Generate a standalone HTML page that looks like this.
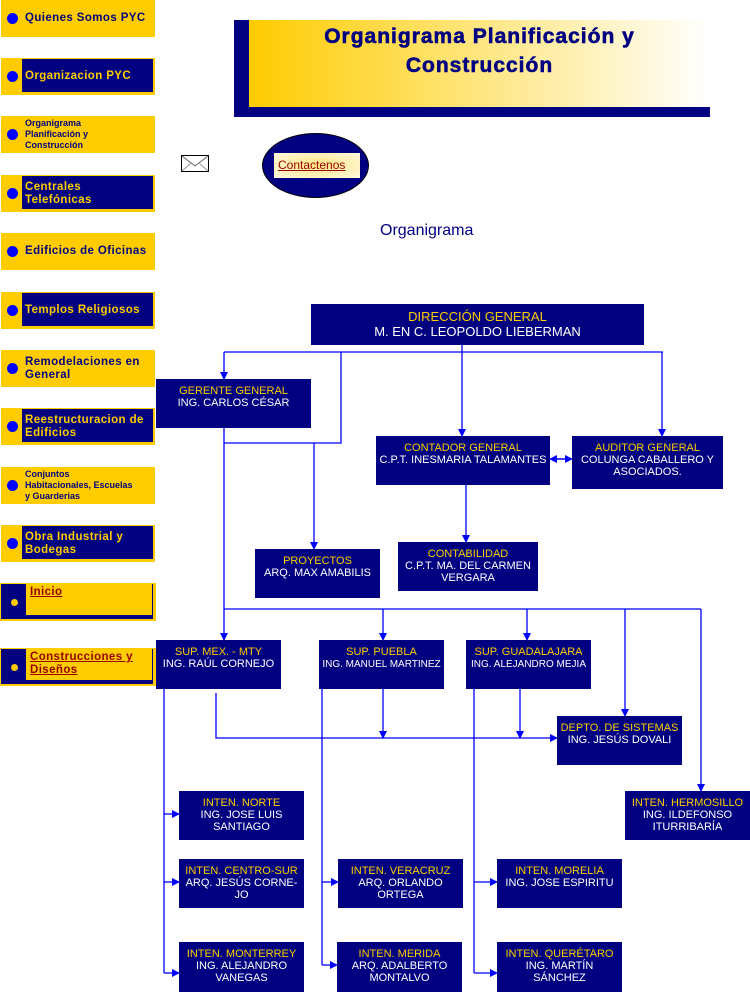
<!DOCTYPE html>
<html><head><meta charset="utf-8"><style>
body{margin:0;width:750px;height:992px;position:relative;background:#fff;overflow:hidden;font-family:"Liberation Sans",sans-serif}
.b{position:absolute;left:1px;width:154px;height:37px;background:#FFCC00}
.b .d{position:absolute;left:6px;top:13px;width:11px;height:11px;border-radius:50%;background:#0000FF}
.b .in{position:absolute;left:21px;top:1px;width:131px;height:33px;background:#000080}
.b .t{position:absolute;left:24px;top:0;height:37px;width:130px;display:flex;align-items:center;font-weight:bold;font-size:11.5px;line-height:13px;color:#000080;letter-spacing:0.4px}
.b .t.y{color:#FFCC00}
.b .t.s{font-size:9px;line-height:11px;letter-spacing:0}
.c{position:absolute;left:0;width:156px;height:38px;background:#FFCC00}
.c .fr{position:absolute;left:1px;top:1px;width:152px;height:35px;background:#000080}
.c .yi{position:absolute;left:26px;top:1px;width:126px;height:31px;background:#FFCC00}
.c .dd{position:absolute;left:11px;top:16px;width:7px;height:7px;border-radius:50%;background:#FFCC00}
.c .t{position:absolute;left:30px;top:3px;font-weight:bold;font-size:11.5px;line-height:13px;color:#990000;text-decoration:underline;letter-spacing:0.4px}
.n{position:absolute;background:#000080;color:#fff;font-size:11px;line-height:12px;text-align:center;padding-top:6px;box-sizing:border-box}
.n span{color:#FFCC00}
</style></head><body>

<div class="b" style="top:0"><div class="d"></div><div class="t">Quienes Somos PYC</div></div>
<div class="b" style="top:58px"><div class="in"></div><div class="d"></div><div class="t y">Organizacion PYC</div></div>
<div class="b" style="top:116px"><div class="d"></div><div class="t s">Organigrama<br>Planificación y<br>Construcción</div></div>
<div class="b" style="top:175px"><div class="in"></div><div class="d"></div><div class="t y">Centrales<br>Telefónicas</div></div>
<div class="b" style="top:233px"><div class="d"></div><div class="t">Edificios de Oficinas</div></div>
<div class="b" style="top:292px"><div class="in"></div><div class="d"></div><div class="t y">Templos Religiosos</div></div>
<div class="b" style="top:350px"><div class="d"></div><div class="t">Remodelaciones en<br>General</div></div>
<div class="b" style="top:408px"><div class="in"></div><div class="d"></div><div class="t y">Reestructuracion de<br>Edificios</div></div>
<div class="b" style="top:467px"><div class="d"></div><div class="t s">Conjuntos<br>Habitacionales, Escuelas<br>y Guarderias</div></div>
<div class="b" style="top:525px"><div class="in"></div><div class="d"></div><div class="t y">Obra Industrial y<br>Bodegas</div></div>
<div class="c" style="top:583px"><div class="fr"></div><div class="yi"></div><div class="dd"></div><div class="t">Inicio</div></div>
<div class="c" style="top:648px"><div class="fr"></div><div class="yi"></div><div class="dd"></div><div class="t">Construcciones y<br>Diseños</div></div>

<div style="position:absolute;left:234px;top:20px;width:476px;height:97px;background:#000080"></div>
<div style="position:absolute;left:249px;top:20px;width:461px;height:87px;background:linear-gradient(90deg,#FFCC00 0%,#FFE680 50%,#FFFFFF 100%)"></div>
<div style="position:absolute;left:249px;top:22px;width:461px;text-align:center;font-weight:900;font-size:21px;line-height:29px;color:#000080;letter-spacing:1px;-webkit-text-stroke:0.6px #000080">Organigrama Planificación y<br>Construcción</div>

<svg style="position:absolute;left:181px;top:155px" width="29" height="18"><rect x="0.5" y="0.5" width="27" height="16" fill="#fff" stroke="#000"/><path d="M1 1 L14 11 L27 1" fill="none" stroke="#666"/><path d="M1 16 L10 8 M27 16 L18 8" stroke="#999"/></svg>
<div style="position:absolute;left:262px;top:133px;width:105px;height:63px;border-radius:50%;background:#000080;border:1px solid #000"></div>
<div style="position:absolute;left:274px;top:153px;width:86px;height:25px;background:radial-gradient(ellipse,#FFE680,#FFF8E0);"></div>
<div style="position:absolute;left:278px;top:158px;font-size:12px;color:#990000;text-decoration:underline">Contactenos</div>

<div style="position:absolute;left:380px;top:222px;font-size:16px;color:#000080">Organigrama</div>

<svg style="position:absolute;left:0;top:0" width="750" height="992">
<defs><marker id="a" markerWidth="8" markerHeight="8" refX="7" refY="4" orient="auto" markerUnits="userSpaceOnUse"><path d="M0,0 L8,4 L0,8 z" fill="#0000FF"/></marker></defs>
<g stroke="#0000FF" stroke-width="1.3" fill="none">
<path d="M224 352 H663"/>
<path d="M462 340 V436" marker-end="url(#a)"/>
<path d="M662 352 V436" marker-end="url(#a)"/>
<path d="M224 352 V379" marker-end="url(#a)"/>
<path d="M341 352 V443 H224"/>
<path d="M224 428 V640" marker-end="url(#a)"/>
<path d="M314 443 V549" marker-end="url(#a)"/>
<path d="M466 485 V542" marker-end="url(#a)"/>
<path d="M556 459 H572" marker-end="url(#a)"/>
<path d="M566 459 H550" marker-end="url(#a)"/>
<path d="M224 609 H701"/>
<path d="M383 609 V640" marker-end="url(#a)"/>
<path d="M527 609 V640" marker-end="url(#a)"/>
<path d="M625 609 V716" marker-end="url(#a)"/>
<path d="M701 609 V791" marker-end="url(#a)"/>
<path d="M216 693 V738 H557" marker-end="url(#a)"/>
<path d="M383 686 V738" marker-end="url(#a)"/>
<path d="M520 686 V738" marker-end="url(#a)"/>
<path d="M164 686 V973"/>
<path d="M164 814 H179" marker-end="url(#a)"/>
<path d="M164 882 H179" marker-end="url(#a)"/>
<path d="M164 973 H179" marker-end="url(#a)"/>
<path d="M322 689 V965"/>
<path d="M322 882 H338" marker-end="url(#a)"/>
<path d="M322 965 H337" marker-end="url(#a)"/>
<path d="M474 686 V973"/>
<path d="M474 882 H497" marker-end="url(#a)"/>
<path d="M474 973 H497" marker-end="url(#a)"/>
</g></svg>

<div class="n" style="left:311px;top:304px;width:333px;height:41px;font-size:13px;line-height:15px;padding-top:5px"><span>DIRECCIÓN GENERAL</span><br>M. EN C. LEOPOLDO LIEBERMAN</div>
<div class="n" style="left:156px;top:379px;width:155px;height:49px"><span>GERENTE GENERAL</span><br>ING. CARLOS CÉSAR</div>
<div class="n" style="left:376px;top:436px;width:174px;height:49px"><span>CONTADOR GENERAL</span><br>C.P.T. INESMARIA TALAMANTES</div>
<div class="n" style="left:572px;top:436px;width:151px;height:53px"><span>AUDITOR GENERAL</span><br>COLUNGA CABALLERO Y<br>ASOCIADOS.</div>
<div class="n" style="left:255px;top:549px;width:125px;height:49px"><span>PROYECTOS</span><br>ARQ. MAX AMABILIS</div>
<div class="n" style="left:398px;top:542px;width:140px;height:49px"><span>CONTABILIDAD</span><br>C.P.T. MA. DEL CARMEN<br>VERGARA</div>
<div class="n" style="left:156px;top:640px;width:125px;height:49px"><span>SUP. MEX. -  MTY</span><br>ING. RAÚL CORNEJO</div>
<div class="n" style="left:319px;top:640px;width:125px;height:49px;font-size:10px"><span style="font-size:11px">SUP. PUEBLA</span><br>ING. MANUEL MARTINEZ</div>
<div class="n" style="left:466px;top:640px;width:125px;height:49px;font-size:10px"><span style="font-size:11px">SUP. GUADALAJARA</span><br>ING. ALEJANDRO MEJIA</div>
<div class="n" style="left:557px;top:716px;width:125px;height:49px"><span>DEPTO. DE SISTEMAS</span><br>ING. JESÚS DOVALI</div>
<div class="n" style="left:179px;top:791px;width:125px;height:49px"><span>INTEN. NORTE</span><br>ING. JOSE LUIS<br>SANTIAGO</div>
<div class="n" style="left:625px;top:791px;width:125px;height:49px"><span>INTEN. HERMOSILLO</span><br>ING. ILDEFONSO<br>ITURRIBARÍA</div>
<div class="n" style="left:179px;top:859px;width:125px;height:49px"><span>INTEN. CENTRO-SUR</span><br>ARQ. JESÚS CORNE-<br>JO</div>
<div class="n" style="left:338px;top:859px;width:125px;height:49px"><span>INTEN. VERACRUZ</span><br>ARQ. ORLANDO<br>ORTEGA</div>
<div class="n" style="left:497px;top:859px;width:125px;height:49px"><span>INTEN. MORELIA</span><br>ING. JOSE ESPIRITU</div>
<div class="n" style="left:179px;top:942px;width:125px;height:50px"><span>INTEN. MONTERREY</span><br>ING. ALEJANDRO<br>VANEGAS</div>
<div class="n" style="left:337px;top:942px;width:125px;height:50px"><span>INTEN. MERIDA</span><br>ARQ. ADALBERTO<br>MONTALVO</div>
<div class="n" style="left:497px;top:942px;width:125px;height:50px"><span>INTEN. QUERÉTARO</span><br>ING. MARTÍN<br>SÁNCHEZ</div>
</body></html>
